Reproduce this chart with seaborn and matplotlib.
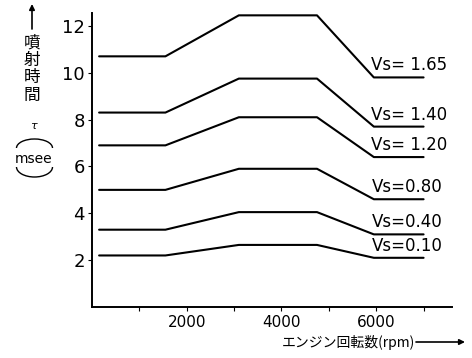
import matplotlib
matplotlib.use("Agg")
import matplotlib.pyplot as plt
from matplotlib.patches import Arc
import seaborn as sns
import pandas as pd

# Engine speed breakpoints (rpm)
rpm = [150, 1550, 3100, 4750, 5950, 7000]

# Injection time tau (msec) for each Vs setting
vs_labels = ["Vs= 1.65", "Vs= 1.40", "Vs= 1.20", "Vs=0.80", "Vs=0.40", "Vs=0.10"]
tau_165 = [10.7, 10.7, 12.45, 12.45, 9.8, 9.8]
tau_140 = [8.3, 8.3, 9.75, 9.75, 7.7, 7.7]
tau_120 = [6.9, 6.9, 8.1, 8.1, 6.4, 6.4]
tau_080 = [5.0, 5.0, 5.9, 5.9, 4.6, 4.6]
tau_040 = [3.3, 3.3, 4.05, 4.05, 3.1, 3.1]
tau_010 = [2.2, 2.2, 2.65, 2.65, 2.1, 2.1]
series = [tau_165, tau_140, tau_120, tau_080, tau_040, tau_010]

y_ticks = [2, 4, 6, 8, 10, 12]
x_ticks = [1000, 2000, 3000, 4000, 5000, 6000, 7000]
x_tick_labels = ["", "2000", "", "4000", "", "6000", ""]

rows = []
for lab, vals in zip(vs_labels, series):
    for r, t in zip(rpm, vals):
        rows.append({"rpm": r, "tau": t, "Vs": lab})
df = pd.DataFrame(rows)

sns.set_style("ticks")
plt.rcParams["font.family"] = ["DejaVu Sans", "Noto Sans CJK JP"]

fig = plt.figure(figsize=(4.72, 3.58), dpi=100)
ax = fig.add_axes([92 / 472, 1 - 307 / 358, (452 - 92) / 472, (307 - 13) / 358])

sns.lineplot(data=df, x="rpm", y="tau", hue="Vs", hue_order=vs_labels,
             palette=["black"] * len(vs_labels), linewidth=1.5,
             legend=False, ax=ax, sort=True, estimator=None)

ax.set_xlim(0, 7600)
ax.set_ylim(0, 12.55)
ax.set_xticks(x_ticks)
ax.set_xticklabels(x_tick_labels, fontsize=11)
ax.set_yticks(y_ticks)
ax.set_yticklabels([str(v) for v in y_ticks], fontsize=13)
ax.tick_params(axis="both", direction="out", length=3, width=0.8, color="black",
               labelcolor="black")
ax.tick_params(axis="x", pad=3)
ax.tick_params(axis="y", pad=2)
ax.set_xlabel("")
ax.set_ylabel("")
sns.despine(ax=ax)
for s in ("left", "bottom"):
    ax.spines[s].set_linewidth(1.4)
    ax.spines[s].set_color("black")

# Series labels just above the right-hand end of each curve
for lab, vals in zip(vs_labels, series):
    ax.annotate(lab, xy=(5900, vals[-1]), xytext=(0, 5), textcoords="offset points",
                ha="left", va="baseline", fontsize=12, color="black")

# Overlay in pixel coordinates for the axis titles and their arrows
ov = fig.add_axes([0, 0, 1, 1])
ov.set_xlim(0, 472)
ov.set_ylim(358, 0)
ov.axis("off")

jp = ["Noto Sans CJK JP", "DejaVu Sans"]

# Vertical axis title: arrow, 噴射時間, tau, (msec)
ov.annotate("", xy=(32, 4), xytext=(32, 29),
            arrowprops=dict(arrowstyle="-|>", color="black", lw=1.2,
                            mutation_scale=8, shrinkA=0, shrinkB=0))
ov.text(32, 69, "噴\n射\n時\n間", ha="center", va="center", fontsize=12,
        family=jp, linespacing=1.05, color="black")
ov.text(33, 126, "τ", ha="center", va="center", fontsize=8, style="italic",
        color="black")
ov.text(34, 159, "msee", ha="center", va="center", fontsize=10, color="black")
# parenthesis arcs above and below the unit (y axis of the overlay is inverted)
ov.add_patch(Arc((34.5, 148), 36, 18, theta1=180, theta2=360,
                 transform=ov.transData, color="black", lw=1.0))
ov.add_patch(Arc((34.5, 167), 36, 20, theta1=0, theta2=180,
                 transform=ov.transData, color="black", lw=1.0))

# Horizontal axis title with arrow
ov.text(348, 342, "エンジン回転数(rpm)", ha="center", va="center", fontsize=10,
        family=jp, color="black")
ov.annotate("", xy=(465, 342), xytext=(416, 342),
            arrowprops=dict(arrowstyle="-|>", color="black", lw=1.2,
                            mutation_scale=8, shrinkA=0, shrinkB=0))

fig.savefig("out.png", dpi=100)
